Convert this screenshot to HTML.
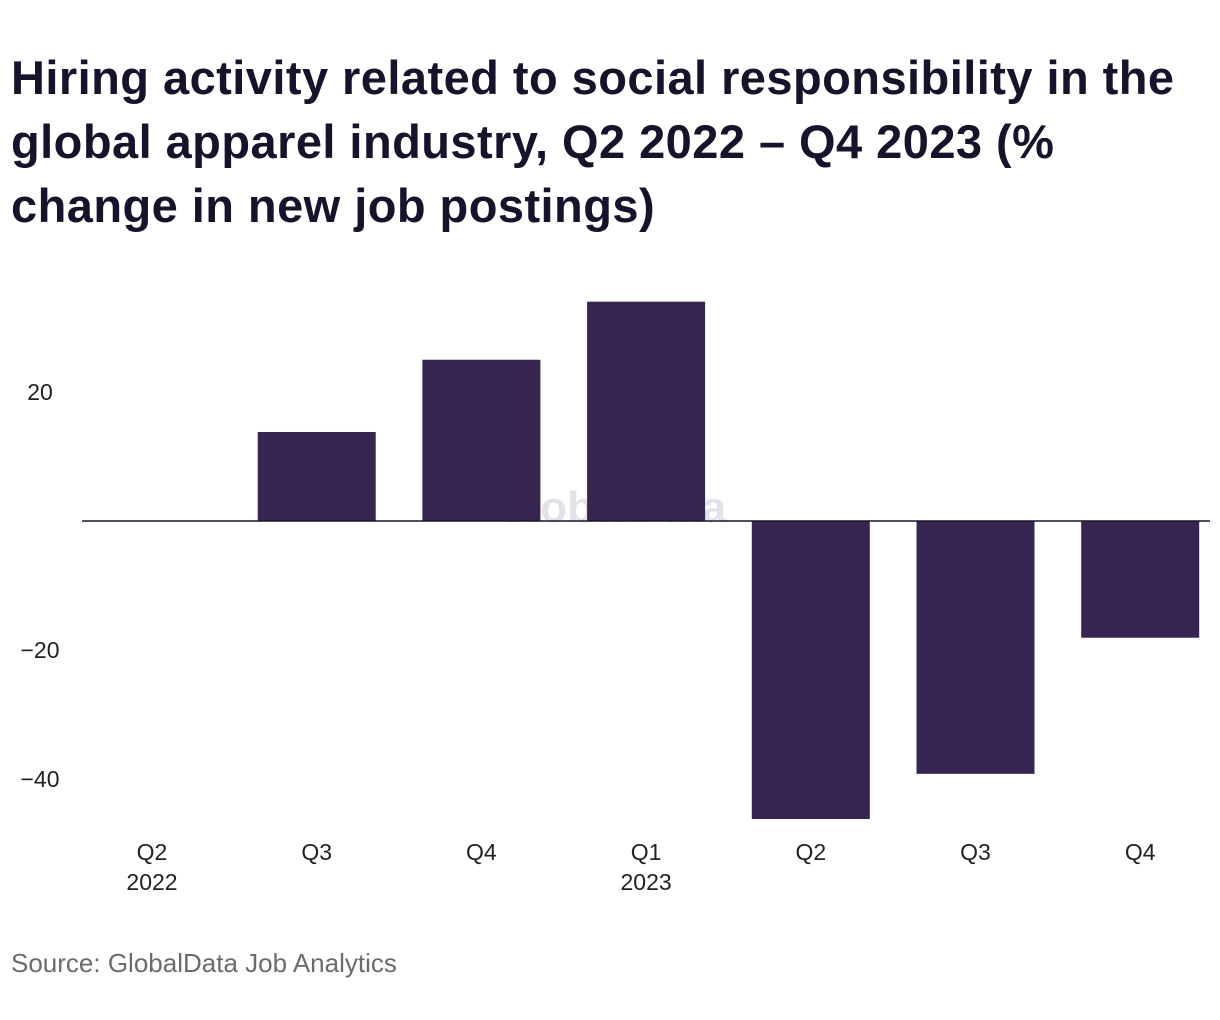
<!DOCTYPE html>
<html><head><meta charset="utf-8">
<style>
body{margin:0;background:#fff;width:1220px;height:1020px;overflow:hidden;font-family:"Liberation Sans",sans-serif;}
#title{position:absolute;left:11px;top:46px;width:1210px;font-size:47px;letter-spacing:0.45px;font-weight:bold;line-height:64px;color:#16142b;margin:0;white-space:nowrap;}
#source{position:absolute;left:11px;top:948px;font-size:26px;color:#6b6b6b;}
svg{position:absolute;left:0;top:0;}
</style></head><body>
<h1 id="title">Hiring activity related to social responsibility in the<br>global apparel industry, Q2 2022 – Q4 2023 (%<br>change in new job postings)</h1>
<svg id="chart" width="1220" height="1020"></svg>
<div id="source">Source: GlobalData Job Analytics</div>
<script>
const categories=["Q2\n2022","Q3","Q4","Q1\n2023","Q2","Q3","Q4"];
const values=[0,13.8,25,34,-46.2,-39.2,-18.1];
const tickValues=[20,-20,-40];
const tickLabels=["20","−20","−40"];
const ns="http://www.w3.org/2000/svg";
const svg=document.getElementById('chart');
const y=v=>521-v*6.45;
const x=i=>152+164.7*i;
const bw=118;
function mk(t,a){const e=document.createElementNS(ns,t);for(const k in a)e.setAttribute(k,a[k]);svg.appendChild(e);return e;}
const wm=mk('text',{x:610,y:522,'text-anchor':'middle','font-size':44,'font-weight':'bold',fill:'#e4e2e8'});
wm.textContent='GlobalData';


tickValues.forEach((v,i)=>{const t=mk('text',{x:40,y:y(v)+8,'text-anchor':'middle','font-size':23,fill:'#222'});t.textContent=tickLabels[i];

});
values.forEach((v,i)=>{const r=mk('rect',{x:x(i)-bw/2,y:Math.min(y(v),y(0)),width:bw,height:Math.abs(y(v)-y(0)),fill:'#362451'});


const lines=categories[i].split('\n');
lines.forEach((l,j)=>{const t=mk('text',{x:x(i),y:860+j*30,'text-anchor':'middle','font-size':23,fill:'#222'});t.textContent=l;

});});
const z=mk('line',{x1:82,x2:1210,y1:y(0),y2:y(0),stroke:'#16142b','stroke-width':1.5});


</script>
</body></html>
